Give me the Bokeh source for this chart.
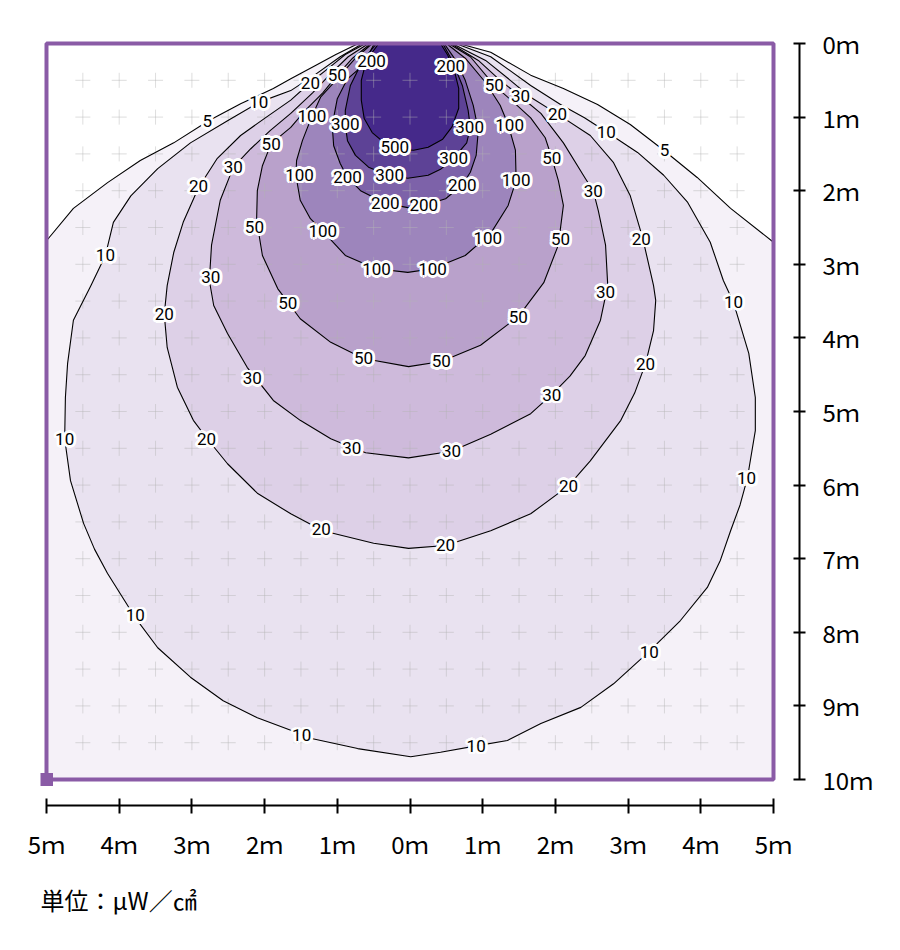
from bokeh.plotting import figure
from bokeh.models import Range1d, LinearAxis, FixedTicker, ColumnDataSource, Title
from bokeh.core.properties import value
from bokeh.embed import file_html
from bokeh.resources import INLINE

# ---------------- data (metres: x = horizontal offset, y = depth) ----------------
levels = [5, 10, 20, 30, 50, 100, 200, 300, 500]

c5_x = [-5.00, -4.63, -4.16, -3.71, -3.25, -2.77, -2.33, -1.88, -1.64, -1.30, -1.02, -0.71,
        0.67, 1.11, 1.66, 2.11, 2.58, 3.03, 3.49, 3.95, 4.41, 5.00]
c5_y = [2.68, 2.24, 1.89, 1.59, 1.35, 1.05, 0.82, 0.61, 0.48, 0.30, 0.15, 0.00,
        0.00, 0.12, 0.43, 0.61, 0.83, 1.10, 1.45, 1.82, 2.24, 2.70]

c10_x = [-0.65, -0.96, -1.30, -1.64, -2.08, -2.51, -3.02, -3.47, -3.84, -4.08, -4.19, -4.39, -4.63,
         -4.71, -4.74, -4.75, -4.67, -4.49, -4.34, -4.16, -3.78, -3.47, -3.02, -2.57, -2.10, -1.64,
         -1.37, -0.72, 0.01, 0.42, 0.93, 1.34, 1.80, 2.35, 2.80, 3.28, 3.72, 4.09, 4.27, 4.41, 4.54,
         4.64, 4.75, 4.75, 4.66, 4.45, 4.31, 4.13, 3.82, 3.49, 3.13, 2.70, 2.40, 2.07, 1.66, 1.11, 0.63]
c10_y = [0.00, 0.18, 0.42, 0.64, 0.80, 1.05, 1.35, 1.70, 2.07, 2.43, 2.88, 3.29, 3.76,
         4.35, 4.81, 5.37, 5.94, 6.52, 6.87, 7.20, 7.80, 8.21, 8.61, 8.93, 9.16, 9.33,
         9.44, 9.58, 9.69, 9.63, 9.54, 9.47, 9.24, 9.02, 8.70, 8.27, 7.84, 7.39, 7.02, 6.62, 6.27,
         5.91, 5.26, 4.81, 4.21, 3.52, 3.22, 2.70, 2.16, 1.79, 1.48, 1.20, 1.01, 0.83, 0.57, 0.18, 0.00]

c20_x = [-0.61, -0.89, -1.09, -1.37, -1.64, -1.99, -2.33, -2.65, -2.91, -3.12, -3.25, -3.34, -3.38,
         -3.34, -3.20, -2.98, -2.79, -2.51, -2.10, -1.64, -1.20, -0.50, -0.02, 0.49, 1.11, 1.66,
         2.18, 2.48, 2.90, 3.09, 3.24, 3.35, 3.38, 3.35, 3.20, 3.03, 2.80, 2.48, 2.03, 1.66, 1.38,
         1.04, 0.58]
c20_y = [0.00, 0.15, 0.31, 0.53, 0.77, 1.01, 1.25, 1.56, 1.96, 2.43, 2.84, 3.29, 3.68,
         4.13, 4.67, 5.12, 5.37, 5.71, 6.11, 6.39, 6.62, 6.79, 6.86, 6.82, 6.62, 6.39,
         6.01, 5.67, 5.12, 4.75, 4.35, 3.90, 3.49, 3.29, 2.64, 2.07, 1.62, 1.25, 0.96, 0.73, 0.50,
         0.23, 0.00]

c30_x = [-0.57, -0.85, -1.09, -1.34, -1.64, -1.92, -2.19, -2.43, -2.61, -2.73, -2.76, -2.70, -2.51,
         -2.24, -1.88, -1.51, -1.09, -0.80, -0.61, -0.02, 0.57, 1.11, 1.66, 1.95, 2.20, 2.41, 2.62,
         2.72, 2.69, 2.59, 2.52, 2.41, 2.11, 1.80, 1.52, 1.24, 0.94, 0.56]
c30_y = [0.00, 0.18, 0.41, 0.67, 0.95, 1.18, 1.43, 1.68, 2.13, 2.74, 3.22, 3.56, 3.94,
         4.40, 4.85, 5.12, 5.37, 5.49, 5.56, 5.63, 5.54, 5.31, 5.03, 4.77, 4.52, 4.24, 3.76,
         3.29, 2.74, 2.27, 2.00, 1.83, 1.35, 0.95, 0.72, 0.50, 0.23, 0.00]

c50_x = [-0.54, -0.79, -1.00, -1.20, -1.44, -1.64, -1.91, -2.03, -2.10, -2.11, -2.03, -1.82, -1.51,
         -1.09, -0.64, -0.02, 0.43, 0.97, 1.49, 1.84, 2.04, 2.11, 2.04, 1.95, 1.86, 1.66, 1.45,
         1.16, 0.83, 0.53]
c50_y = [0.00, 0.20, 0.43, 0.67, 0.91, 1.14, 1.36, 1.66, 2.00, 2.40, 2.88, 3.33, 3.74,
         4.06, 4.28, 4.39, 4.32, 4.10, 3.71, 3.25, 2.74, 2.20, 1.86, 1.55, 1.28, 1.01, 0.82,
         0.57, 0.18, 0.00]

c100_x = [-0.52, -0.75, -1.02, -1.23, -1.35, -1.48, -1.56, -1.57, -1.51, -1.37, -1.20, -0.89, -0.47,
          -0.03, 0.31, 0.76, 1.11, 1.35, 1.46, 1.45, 1.35, 1.24, 1.04, 0.76, 0.50]
c100_y = [0.00, 0.20, 0.50, 0.73, 0.99, 1.32, 1.59, 1.79, 2.13, 2.38, 2.55, 2.88, 3.06,
          3.11, 3.06, 2.88, 2.58, 2.20, 1.86, 1.45, 1.10, 0.84, 0.53, 0.20, 0.00]

c200_x = [-0.49, -0.65, -0.86, -1.00, -1.07, -1.05, -0.96, -0.86, -0.68, -0.34, -0.03, 0.19, 0.49,
          0.72, 0.83, 0.91, 0.94, 0.87, 0.76, 0.63, 0.47]
c200_y = [0.00, 0.30, 0.48, 0.75, 1.11, 1.39, 1.63, 1.82, 2.00, 2.17, 2.23, 2.20, 2.11,
          1.92, 1.75, 1.52, 1.18, 0.84, 0.50, 0.23, 0.00]

c300_x = [-0.46, -0.65, -0.82, -0.89, -0.89, -0.86, -0.75, -0.57, -0.30, -0.03, 0.25, 0.42, 0.60,
          0.78, 0.83, 0.80, 0.72, 0.58, 0.45]
c300_y = [0.00, 0.23, 0.57, 0.91, 1.11, 1.32, 1.52, 1.68, 1.79, 1.83, 1.79, 1.71, 1.56,
          1.35, 1.14, 0.91, 0.57, 0.23, 0.00]

c500_x = [-0.43, -0.60, -0.67, -0.67, -0.63, -0.52, -0.34, -0.13, 0.05, 0.25, 0.45, 0.58, 0.67,
          0.67, 0.61, 0.52, 0.42]
c500_y = [0.00, 0.23, 0.50, 0.77, 1.02, 1.21, 1.36, 1.44, 1.45, 1.41, 1.30, 1.13, 0.88,
          0.61, 0.37, 0.16, 0.00]

contour_x = [c5_x, c10_x, c20_x, c30_x, c50_x, c100_x, c200_x, c300_x, c500_x]
contour_y = [c5_y, c10_y, c20_y, c30_y, c50_y, c100_y, c200_y, c300_y, c500_y]

# contour labels
lab_text = (["5"] * 2 + ["10"] * 10 + ["20"] * 10 + ["30"] * 9 + ["50"] * 10 +
            ["100"] * 8 + ["200"] * 6 + ["300"] * 4 + ["500"])
lab_x = [-2.79, 3.50,
         -2.08, -4.19, -4.75, -3.78, -1.49, 0.91, 3.29, 4.63, 4.45, 2.70,
         -1.37, -2.91, -3.38, -2.80, -1.22, 0.49, 2.18, 3.24, 3.18, 2.03,
         -2.43, -2.74, -2.17, -0.80, 0.57, 1.95, 2.69, 2.52, 1.52,
         -1.00, -1.91, -2.14, -1.68, -0.64, 0.43, 1.49, 2.07, 1.95, 1.16,
         -1.35, -1.52, -1.20, -0.46, 0.31, 1.07, 1.46, 1.37,
         -0.53, -0.86, -0.34, 0.19, 0.72, 0.56,
         -0.89, -0.28, 0.60, 0.82,
         -0.21]
lab_y = [1.05, 1.45,
         0.80, 2.88, 5.37, 7.77, 9.40, 9.54, 8.27, 5.91, 3.51, 1.20,
         0.53, 1.94, 3.68, 5.37, 6.60, 6.81, 6.01, 4.35, 2.65, 0.96,
         1.68, 3.17, 4.55, 5.49, 5.54, 4.77, 3.38, 2.00, 0.72,
         0.43, 1.36, 2.49, 3.53, 4.27, 4.32, 3.71, 2.65, 1.55, 0.57,
         0.99, 1.78, 2.55, 3.06, 3.06, 2.64, 1.86, 1.11,
         0.24, 1.82, 2.17, 2.20, 1.92, 0.31,
         1.09, 1.79, 1.56, 1.14,
         1.41]

x_ticks = [-5, -4, -3, -2, -1, 0, 1, 2, 3, 4, 5]
x_tick_labels = ["5ｍ", "4ｍ", "3ｍ", "2ｍ", "1ｍ", "0ｍ", "1ｍ", "2ｍ", "3ｍ", "4ｍ", "5ｍ"]
y_ticks = [0, 1, 2, 3, 4, 5, 6, 7, 8, 9, 10]
y_tick_labels = ["0ｍ", "1ｍ", "2ｍ", "3ｍ", "4ｍ", "5ｍ", "6ｍ", "7ｍ", "8ｍ", "9ｍ", "10ｍ"]

grid_x = [-4.5, -4.0, -3.5, -3.0, -2.5, -2.0, -1.5, -1.0, -0.5, 0.0,
          0.5, 1.0, 1.5, 2.0, 2.5, 3.0, 3.5, 4.0, 4.5]
grid_y = [0.5, 1.0, 1.5, 2.0, 2.5, 3.0, 3.5, 4.0, 4.5, 5.0,
          5.5, 6.0, 6.5, 7.0, 7.5, 8.0, 8.5, 9.0, 9.5]

unit_text = "単位：μW／㎠"

# ---------------- styles ----------------
band_colors = ["#f5f1f8", "#e9e2f0", "#ddd0e7", "#cebadb", "#b9a1cb",
               "#9d85bc", "#7d62a9", "#5d4296", "#45298a"]
frame_purple = "#8a5ba6"
JP = "Noto Sans CJK JP"
LABEL_FONT = "Roboto"

p = figure(frame_width=759, frame_height=768,
           x_range=Range1d(-5.0825, 5.3576), y_range=Range1d(10.3533, -0.0815),
           output_backend="svg", toolbar_location=None,
           x_axis_type=None, y_axis_type=None,
           min_border_left=40, min_border_top=37, min_border_right=101, min_border_bottom=145)
p.outline_line_color = None
p.background_fill_color = "white"
p.border_fill_color = "white"

# filled bands, outermost first
for i, lev in enumerate(levels):
    xs = list(contour_x[i])
    ys = list(contour_y[i])
    if lev == 5:
        xs = xs + [5.0, -5.0]
        ys = ys + [10.0, 10.0]
    p.patch(xs, ys, fill_color=band_colors[i], line_color=None)

# grid crosses
gx = [x for y in grid_y for x in grid_x]
gy = [y for y in grid_y for x in grid_x]
p.scatter(gx, gy, marker="cross", size=15, line_color="#b4b4b4", line_alpha=0.45, line_width=1)

# contour lines
p.multi_line(contour_x, contour_y, line_color="black", line_width=1.1, line_join="round")

# contour labels with white halo
src = ColumnDataSource(dict(x=lab_x, y=lab_y, t=lab_text))
offs = [(-2.8, 0), (2.8, 0), (0, -2.8), (0, 2.8), (-2.0, -2.0), (2.0, -2.0), (-2.0, 2.0), (2.0, 2.0),
        (-2.6, -1.1), (2.6, -1.1), (-2.6, 1.1), (2.6, 1.1)]
for dx, dy in offs:
    p.text("x", "y", text="t", source=src, x_offset=dx, y_offset=dy,
           text_color="white", text_font=value(LABEL_FONT), text_font_size="17px",
           text_align="center", text_baseline="middle")
p.text("x", "y", text="t", source=src, text_color="black", text_font=value(LABEL_FONT),
       text_font_size="17px", text_align="center", text_baseline="middle")

# purple frame and corner marker
p.quad(left=[-5], right=[5], top=[0], bottom=[10], fill_color=None,
       line_color=frame_purple, line_width=4)
p.scatter([-5], [10], marker="square", size=13, fill_color=frame_purple, line_color=None)

# axes
xaxis = LinearAxis(bounds=(-5, 5), ticker=FixedTicker(ticks=x_ticks),
                   major_label_overrides={t: s for t, s in zip(x_ticks, x_tick_labels)})
yaxis = LinearAxis(bounds=(0, 10), ticker=FixedTicker(ticks=y_ticks),
                   major_label_overrides={t: s for t, s in zip(y_ticks, y_tick_labels)})
for ax in (xaxis, yaxis):
    ax.axis_line_color = "black"
    ax.axis_line_width = 2
    ax.major_tick_line_color = "black"
    ax.major_tick_line_width = 2
    ax.minor_tick_line_color = None
    ax.major_label_text_font = JP
    ax.major_label_text_font_size = "24px"
    ax.major_label_text_color = "black"
xaxis.major_tick_in = 7
xaxis.major_tick_out = 8
xaxis.major_label_standoff = 12
yaxis.major_tick_in = 6
yaxis.major_tick_out = 6
yaxis.major_label_standoff = 17
p.add_layout(xaxis, "below")
p.add_layout(yaxis, "right")

unit_title = Title(text=unit_text, align="left", text_font=JP, text_font_size="24px",
                   text_font_style="normal", text_color="black", standoff=33, offset=0)
p.add_layout(unit_title, "below")

open("out.html", "w").write(file_html(p, INLINE))
